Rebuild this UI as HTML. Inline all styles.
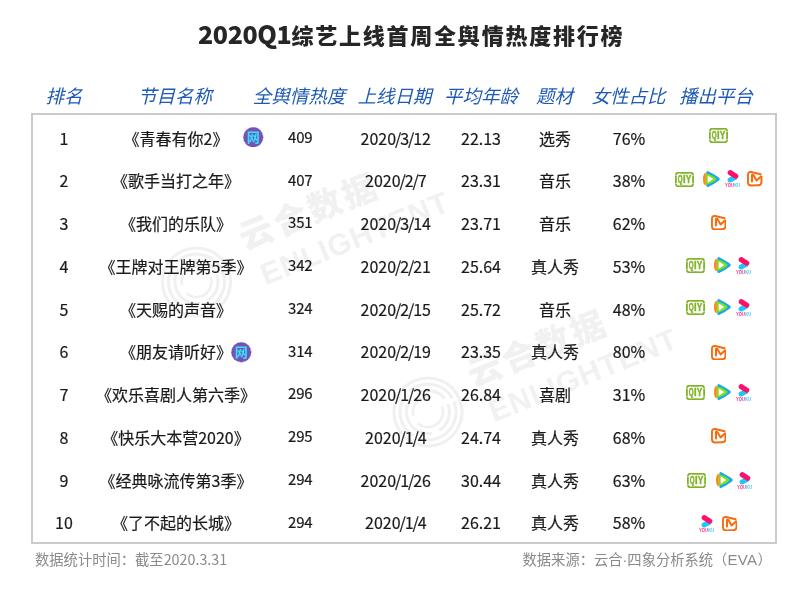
<!DOCTYPE html>
<html><head><meta charset="utf-8">
<style>
*{margin:0;padding:0;box-sizing:border-box}
html,body{width:800px;height:589px;background:#fff;overflow:hidden}
body{position:relative;font-family:"Liberation Sans","Noto Sans CJK SC",sans-serif;color:#1a1a1a}
.title{position:absolute;left:198px;top:17px;white-space:nowrap;font:900 22px/32px "Noto Sans CJK SC",sans-serif;color:#262626;letter-spacing:1.78px}
.title b{font-size:25px;letter-spacing:-0.4px;font-weight:900}
.hd{position:absolute;top:83px;height:24px;font:italic 18.5px/24px "Noto Sans CJK SC",sans-serif;color:#1e5ab4;white-space:nowrap;text-align:center;transform:translateX(-50%)}
.box{position:absolute;left:31px;top:113px;width:746px;height:431px;border:2px solid #cbcbcb}
.c{position:absolute;height:24px;line-height:24px;font-size:16px;-webkit-text-stroke:0.2px #1a1a1a;white-space:nowrap;text-align:center;transform:translateX(-50%);font-family:"Noto Sans CJK SC",sans-serif}
.nm{}
.hv{position:absolute;height:24px;line-height:24px;font-size:15px;-webkit-text-stroke:0.2px #1a1a1a;color:#1a1a1a;letter-spacing:-0.2px;white-space:nowrap;font-family:"Noto Sans CJK SC",sans-serif}
.sl{font-style:normal;margin:0 -1.1px}
.bd{position:absolute;left:100%;top:1px;margin-left:4px}
.bd svg{display:block}
.foot{position:absolute;top:549px;font:14.3px/20px "Noto Sans CJK SC",sans-serif;color:#8a8a8a;white-space:nowrap}
.ic{position:absolute;line-height:0}
.ic svg{display:block}
.wmk{position:absolute;left:0;top:0}
</style></head><body>
<div class="title"><b>2020Q1</b>综艺上线首周全舆情热度排行榜</div>

<div class="hd" style="left:64px">排名</div>
<div class="hd" style="left:175px">节目名称</div>
<div class="hd" style="left:299px">全舆情热度</div>
<div class="hd" style="left:394.5px">上线日期</div>
<div class="hd" style="left:481px">平均年龄</div>
<div class="hd" style="left:554.5px">题材</div>
<div class="hd" style="left:628.5px">女性占比</div>
<div class="hd" style="left:716px">播出平台</div>

<div class="box"></div>
<svg class="wmk" width="800" height="589" viewBox="0 0 800 589">
<g fill="#f1f1f1" font-family="Noto Sans CJK SC,sans-serif" font-weight="900">
<g transform="translate(245,250.5) rotate(-22)">
<text x="0" y="0" font-size="34" letter-spacing="3">云合数据</text>
<text x="6" y="40" font-size="30" font-family="Liberation Sans,sans-serif" font-weight="bold" textLength="200" lengthAdjust="spacing">ENLIGHTENT</text>
</g>
<g transform="translate(473.5,387.5) rotate(-22)">
<text x="0" y="0" font-size="34" letter-spacing="3">云合数据</text>
<text x="6" y="40" font-size="30" font-family="Liberation Sans,sans-serif" font-weight="bold" textLength="200" lengthAdjust="spacing">ENLIGHTENT</text>
</g>
</g>
<g transform="translate(196.5,282) rotate(-22)" fill="none" stroke="#f0f0f0">
<circle r="34" stroke-width="3"/>
<circle r="28" stroke-width="3" stroke-dasharray="60 10 40 12 50 4" />
<circle r="21.5" stroke-width="3" stroke-dasharray="30 8 50 10 30 7"/>
<circle r="15" stroke-width="2.5" stroke-dasharray="40 9 30 15"/>
</g>
<g transform="translate(428,412) rotate(-22)" fill="none" stroke="#f0f0f0">
<circle r="34" stroke-width="3"/>
<circle r="28" stroke-width="3" stroke-dasharray="60 10 40 12 50 4" />
<circle r="21.5" stroke-width="3" stroke-dasharray="30 8 50 10 30 7"/>
<circle r="15" stroke-width="2.5" stroke-dasharray="40 9 30 15"/>
</g>
</svg>

<div class="c" style="left:64px;top:125.50px">1</div>
<div class="c nm" style="left:176px;top:125.50px">《青春有你2》</div>
<div class="ic" style="left:243.25px;top:126.95px"><svg width="20.5" height="20.5" viewBox="0 0 20.5 20.5"><circle cx="10.25" cy="10.25" r="9.9" fill="#7552b5" stroke="#7552b5" stroke-width="0.5" stroke-dasharray="0.8 0.8"/><text x="10.25" y="15.1" text-anchor="middle" font-family="Noto Sans CJK SC,sans-serif" font-weight="bold" font-size="13" fill="#36e2fb">网</text></svg></div>
<div class="hv" style="left:288px;top:124.80px">409</div>
<div class="c" style="left:395.8px;top:125.50px">2020<i class="sl">/</i>3<i class="sl">/</i>12</div>
<div class="c" style="left:481px;top:125.50px">22.13</div>
<div class="c" style="left:555px;top:125.50px">选秀</div>
<div class="c" style="left:629px;top:125.50px">76%</div>
<div class="ic" style="left:708.8px;top:127.55px"><svg width="19" height="15" viewBox="0 0 19 15"><path d="M0.9 3.4 C0.9 1.3 1.9 0.55 4 0.7 Q9.5 1.1 15 0.7 C17.1 0.55 18.1 1.3 18.1 3.4" fill="none" stroke="#80b327" stroke-width="1.8"/><path d="M0.9 11.6 C0.9 13.7 1.9 14.45 4 14.3 Q9.5 13.9 15 14.3 C17.1 14.45 18.1 13.7 18.1 11.6" fill="none" stroke="#80b327" stroke-width="1.8"/><path d="M0.9 4.1 V10.9 M18.1 4.1 V10.9" stroke="#80b327" stroke-width="1.8"/><text x="2.7" y="11.3" font-family="Liberation Sans,sans-serif" font-weight="bold" font-size="10.8" fill="#80b327" stroke="#80b327" stroke-width="0.45" lengthAdjust="spacingAndGlyphs" textLength="4.9">Q</text><text x="8.1" y="11.3" font-family="Liberation Sans,sans-serif" font-weight="bold" font-size="10.8" fill="#80b327" stroke="#80b327" stroke-width="0.45" lengthAdjust="spacingAndGlyphs" textLength="2.6">I</text><text x="10.8" y="11.3" font-family="Liberation Sans,sans-serif" font-weight="bold" font-size="10.8" fill="#80b327" stroke="#80b327" stroke-width="0.45" lengthAdjust="spacingAndGlyphs" textLength="5.6">Y</text></svg></div>
<div class="c" style="left:64px;top:168.25px">2</div>
<div class="c nm" style="left:176px;top:168.25px">《歌手当打之年》</div>
<div class="hv" style="left:288px;top:167.55px">407</div>
<div class="c" style="left:395.8px;top:168.25px">2020<i class="sl">/</i>2<i class="sl">/</i>7</div>
<div class="c" style="left:481px;top:168.25px">23.31</div>
<div class="c" style="left:555px;top:168.25px">音乐</div>
<div class="c" style="left:629px;top:168.25px">38%</div>
<div class="ic" style="left:674.6px;top:171.50px"><svg width="19" height="15" viewBox="0 0 19 15"><path d="M0.9 3.4 C0.9 1.3 1.9 0.55 4 0.7 Q9.5 1.1 15 0.7 C17.1 0.55 18.1 1.3 18.1 3.4" fill="none" stroke="#80b327" stroke-width="1.8"/><path d="M0.9 11.6 C0.9 13.7 1.9 14.45 4 14.3 Q9.5 13.9 15 14.3 C17.1 14.45 18.1 13.7 18.1 11.6" fill="none" stroke="#80b327" stroke-width="1.8"/><path d="M0.9 4.1 V10.9 M18.1 4.1 V10.9" stroke="#80b327" stroke-width="1.8"/><text x="2.7" y="11.3" font-family="Liberation Sans,sans-serif" font-weight="bold" font-size="10.8" fill="#80b327" stroke="#80b327" stroke-width="0.45" lengthAdjust="spacingAndGlyphs" textLength="4.9">Q</text><text x="8.1" y="11.3" font-family="Liberation Sans,sans-serif" font-weight="bold" font-size="10.8" fill="#80b327" stroke="#80b327" stroke-width="0.45" lengthAdjust="spacingAndGlyphs" textLength="2.6">I</text><text x="10.8" y="11.3" font-family="Liberation Sans,sans-serif" font-weight="bold" font-size="10.8" fill="#80b327" stroke="#80b327" stroke-width="0.45" lengthAdjust="spacingAndGlyphs" textLength="5.6">Y</text></svg></div>
<div class="ic" style="left:703.2px;top:170.75px"><svg width="17" height="17" viewBox="0 0 17 17"><path d="M3.4 1.4 Q3.6 -0.5 5.6 0.4 Q11.8 3.3 15.9 6.6 Q17.5 8.05 15.9 9.5 Q11.8 12.8 5.6 15.7 Q3.6 16.6 3.4 14.7 Z" fill="#17a6f2"/><path d="M2.6 2.2 Q9.6 4.3 13.1 7.2 Q14 8.05 13.1 8.9 Q9.6 11.8 2.6 13.9 Z" fill="#7ee01c"/><path d="M4.7 4.9 Q4.7 4.3 5.3 4.7 L9.6 7.6 Q10.1 8.05 9.6 8.5 L5.3 11.4 Q4.7 11.8 4.7 11.2 Z" fill="#fff"/><path d="M2.8 1.4 Q0 2.4 0 8 Q0 13.6 2.8 14.5 Z" fill="#ff8618"/></svg></div>
<div class="ic" style="left:724.5px;top:170.25px"><svg width="16" height="17.5" viewBox="0 0 16 17.5"><path d="M5.1 10 L9.8 7.6" stroke="#1ec6fc" stroke-width="5" stroke-linecap="round"/><path d="M5.3 2.7 L10.7 6.1" stroke="#ff0f6a" stroke-width="5.2" stroke-linecap="round"/><text x="0" y="17" font-family="Liberation Sans,sans-serif" font-weight="bold" font-size="5" fill="#ff2f88" textLength="9" lengthAdjust="spacingAndGlyphs">YOU</text><text x="9.3" y="17" font-family="Liberation Sans,sans-serif" font-weight="bold" font-size="5" fill="#3cc2ff" textLength="5.8" lengthAdjust="spacingAndGlyphs">KU</text></svg></div>
<div class="ic" style="left:747.0px;top:171.25px"><svg width="15.5" height="15.5" viewBox="0 0 15.5 15.5"><path d="M13.6 3.2 L4.2 1 Q0.95 0.6 0.95 4 L0.95 11.2 Q0.95 14.5 4.2 14.5 L11.2 14.3 Q14.5 14.2 14.5 11 L14.5 5.6" fill="none" stroke="#f86a0c" stroke-width="1.9" stroke-linecap="round"/><path d="M5 10.5 L5 4.2 Q5.2 3.1 6.2 3.8 L9.6 9.4 L13.9 5.4" fill="none" stroke="#f86a0c" stroke-width="2" stroke-linejoin="round" stroke-linecap="round"/></svg></div>
<div class="c" style="left:64px;top:211.00px">3</div>
<div class="c nm" style="left:176px;top:211.00px">《我们的乐队》</div>
<div class="hv" style="left:288px;top:210.30px">351</div>
<div class="c" style="left:395.8px;top:211.00px">2020<i class="sl">/</i>3<i class="sl">/</i>14</div>
<div class="c" style="left:481px;top:211.00px">23.71</div>
<div class="c" style="left:555px;top:211.00px">音乐</div>
<div class="c" style="left:629px;top:211.00px">62%</div>
<div class="ic" style="left:710.9px;top:214.70px"><svg width="15.5" height="15.5" viewBox="0 0 15.5 15.5"><path d="M13.6 3.2 L4.2 1 Q0.95 0.6 0.95 4 L0.95 11.2 Q0.95 14.5 4.2 14.5 L11.2 14.3 Q14.5 14.2 14.5 11 L14.5 5.6" fill="none" stroke="#f86a0c" stroke-width="1.9" stroke-linecap="round"/><path d="M5 10.5 L5 4.2 Q5.2 3.1 6.2 3.8 L9.6 9.4 L13.9 5.4" fill="none" stroke="#f86a0c" stroke-width="2" stroke-linejoin="round" stroke-linecap="round"/></svg></div>
<div class="c" style="left:64px;top:253.75px">4</div>
<div class="c nm" style="left:176px;top:253.75px">《王牌对王牌第5季》</div>
<div class="hv" style="left:288px;top:253.05px">342</div>
<div class="c" style="left:395.8px;top:253.75px">2020<i class="sl">/</i>2<i class="sl">/</i>21</div>
<div class="c" style="left:481px;top:253.75px">25.64</div>
<div class="c" style="left:555px;top:253.75px">真人秀</div>
<div class="c" style="left:629px;top:253.75px">53%</div>
<div class="ic" style="left:685.7px;top:257.85px"><svg width="19" height="15" viewBox="0 0 19 15"><path d="M0.9 3.4 C0.9 1.3 1.9 0.55 4 0.7 Q9.5 1.1 15 0.7 C17.1 0.55 18.1 1.3 18.1 3.4" fill="none" stroke="#80b327" stroke-width="1.8"/><path d="M0.9 11.6 C0.9 13.7 1.9 14.45 4 14.3 Q9.5 13.9 15 14.3 C17.1 14.45 18.1 13.7 18.1 11.6" fill="none" stroke="#80b327" stroke-width="1.8"/><path d="M0.9 4.1 V10.9 M18.1 4.1 V10.9" stroke="#80b327" stroke-width="1.8"/><text x="2.7" y="11.3" font-family="Liberation Sans,sans-serif" font-weight="bold" font-size="10.8" fill="#80b327" stroke="#80b327" stroke-width="0.45" lengthAdjust="spacingAndGlyphs" textLength="4.9">Q</text><text x="8.1" y="11.3" font-family="Liberation Sans,sans-serif" font-weight="bold" font-size="10.8" fill="#80b327" stroke="#80b327" stroke-width="0.45" lengthAdjust="spacingAndGlyphs" textLength="2.6">I</text><text x="10.8" y="11.3" font-family="Liberation Sans,sans-serif" font-weight="bold" font-size="10.8" fill="#80b327" stroke="#80b327" stroke-width="0.45" lengthAdjust="spacingAndGlyphs" textLength="5.6">Y</text></svg></div>
<div class="ic" style="left:714.3px;top:257.10px"><svg width="17" height="17" viewBox="0 0 17 17"><path d="M3.4 1.4 Q3.6 -0.5 5.6 0.4 Q11.8 3.3 15.9 6.6 Q17.5 8.05 15.9 9.5 Q11.8 12.8 5.6 15.7 Q3.6 16.6 3.4 14.7 Z" fill="#17a6f2"/><path d="M2.6 2.2 Q9.6 4.3 13.1 7.2 Q14 8.05 13.1 8.9 Q9.6 11.8 2.6 13.9 Z" fill="#7ee01c"/><path d="M4.7 4.9 Q4.7 4.3 5.3 4.7 L9.6 7.6 Q10.1 8.05 9.6 8.5 L5.3 11.4 Q4.7 11.8 4.7 11.2 Z" fill="#fff"/><path d="M2.8 1.4 Q0 2.4 0 8 Q0 13.6 2.8 14.5 Z" fill="#ff8618"/></svg></div>
<div class="ic" style="left:735.6px;top:256.60px"><svg width="16" height="17.5" viewBox="0 0 16 17.5"><path d="M5.1 10 L9.8 7.6" stroke="#1ec6fc" stroke-width="5" stroke-linecap="round"/><path d="M5.3 2.7 L10.7 6.1" stroke="#ff0f6a" stroke-width="5.2" stroke-linecap="round"/><text x="0" y="17" font-family="Liberation Sans,sans-serif" font-weight="bold" font-size="5" fill="#ff2f88" textLength="9" lengthAdjust="spacingAndGlyphs">YOU</text><text x="9.3" y="17" font-family="Liberation Sans,sans-serif" font-weight="bold" font-size="5" fill="#3cc2ff" textLength="5.8" lengthAdjust="spacingAndGlyphs">KU</text></svg></div>
<div class="c" style="left:64px;top:296.50px">5</div>
<div class="c nm" style="left:176px;top:296.50px">《天赐的声音》</div>
<div class="hv" style="left:288px;top:295.80px">324</div>
<div class="c" style="left:395.8px;top:296.50px">2020<i class="sl">/</i>2<i class="sl">/</i>15</div>
<div class="c" style="left:481px;top:296.50px">25.72</div>
<div class="c" style="left:555px;top:296.50px">音乐</div>
<div class="c" style="left:629px;top:296.50px">48%</div>
<div class="ic" style="left:685.7px;top:300.05px"><svg width="19" height="15" viewBox="0 0 19 15"><path d="M0.9 3.4 C0.9 1.3 1.9 0.55 4 0.7 Q9.5 1.1 15 0.7 C17.1 0.55 18.1 1.3 18.1 3.4" fill="none" stroke="#80b327" stroke-width="1.8"/><path d="M0.9 11.6 C0.9 13.7 1.9 14.45 4 14.3 Q9.5 13.9 15 14.3 C17.1 14.45 18.1 13.7 18.1 11.6" fill="none" stroke="#80b327" stroke-width="1.8"/><path d="M0.9 4.1 V10.9 M18.1 4.1 V10.9" stroke="#80b327" stroke-width="1.8"/><text x="2.7" y="11.3" font-family="Liberation Sans,sans-serif" font-weight="bold" font-size="10.8" fill="#80b327" stroke="#80b327" stroke-width="0.45" lengthAdjust="spacingAndGlyphs" textLength="4.9">Q</text><text x="8.1" y="11.3" font-family="Liberation Sans,sans-serif" font-weight="bold" font-size="10.8" fill="#80b327" stroke="#80b327" stroke-width="0.45" lengthAdjust="spacingAndGlyphs" textLength="2.6">I</text><text x="10.8" y="11.3" font-family="Liberation Sans,sans-serif" font-weight="bold" font-size="10.8" fill="#80b327" stroke="#80b327" stroke-width="0.45" lengthAdjust="spacingAndGlyphs" textLength="5.6">Y</text></svg></div>
<div class="ic" style="left:714.3px;top:299.30px"><svg width="17" height="17" viewBox="0 0 17 17"><path d="M3.4 1.4 Q3.6 -0.5 5.6 0.4 Q11.8 3.3 15.9 6.6 Q17.5 8.05 15.9 9.5 Q11.8 12.8 5.6 15.7 Q3.6 16.6 3.4 14.7 Z" fill="#17a6f2"/><path d="M2.6 2.2 Q9.6 4.3 13.1 7.2 Q14 8.05 13.1 8.9 Q9.6 11.8 2.6 13.9 Z" fill="#7ee01c"/><path d="M4.7 4.9 Q4.7 4.3 5.3 4.7 L9.6 7.6 Q10.1 8.05 9.6 8.5 L5.3 11.4 Q4.7 11.8 4.7 11.2 Z" fill="#fff"/><path d="M2.8 1.4 Q0 2.4 0 8 Q0 13.6 2.8 14.5 Z" fill="#ff8618"/></svg></div>
<div class="ic" style="left:735.6px;top:298.80px"><svg width="16" height="17.5" viewBox="0 0 16 17.5"><path d="M5.1 10 L9.8 7.6" stroke="#1ec6fc" stroke-width="5" stroke-linecap="round"/><path d="M5.3 2.7 L10.7 6.1" stroke="#ff0f6a" stroke-width="5.2" stroke-linecap="round"/><text x="0" y="17" font-family="Liberation Sans,sans-serif" font-weight="bold" font-size="5" fill="#ff2f88" textLength="9" lengthAdjust="spacingAndGlyphs">YOU</text><text x="9.3" y="17" font-family="Liberation Sans,sans-serif" font-weight="bold" font-size="5" fill="#3cc2ff" textLength="5.8" lengthAdjust="spacingAndGlyphs">KU</text></svg></div>
<div class="c" style="left:64px;top:339.25px">6</div>
<div class="c nm" style="left:176px;top:339.25px">《朋友请听好》</div>
<div class="ic" style="left:231.45px;top:342.05px"><svg width="20.5" height="20.5" viewBox="0 0 20.5 20.5"><circle cx="10.25" cy="10.25" r="9.9" fill="#7552b5" stroke="#7552b5" stroke-width="0.5" stroke-dasharray="0.8 0.8"/><text x="10.25" y="15.1" text-anchor="middle" font-family="Noto Sans CJK SC,sans-serif" font-weight="bold" font-size="13" fill="#36e2fb">网</text></svg></div>
<div class="hv" style="left:288px;top:338.55px">314</div>
<div class="c" style="left:395.8px;top:339.25px">2020<i class="sl">/</i>2<i class="sl">/</i>19</div>
<div class="c" style="left:481px;top:339.25px">23.35</div>
<div class="c" style="left:555px;top:339.25px">真人秀</div>
<div class="c" style="left:629px;top:339.25px">80%</div>
<div class="ic" style="left:710.8px;top:344.85px"><svg width="15.5" height="15.5" viewBox="0 0 15.5 15.5"><path d="M13.6 3.2 L4.2 1 Q0.95 0.6 0.95 4 L0.95 11.2 Q0.95 14.5 4.2 14.5 L11.2 14.3 Q14.5 14.2 14.5 11 L14.5 5.6" fill="none" stroke="#f86a0c" stroke-width="1.9" stroke-linecap="round"/><path d="M5 10.5 L5 4.2 Q5.2 3.1 6.2 3.8 L9.6 9.4 L13.9 5.4" fill="none" stroke="#f86a0c" stroke-width="2" stroke-linejoin="round" stroke-linecap="round"/></svg></div>
<div class="c" style="left:64px;top:382.00px">7</div>
<div class="c nm" style="left:176px;top:382.00px">《欢乐喜剧人第六季》</div>
<div class="hv" style="left:288px;top:381.30px">296</div>
<div class="c" style="left:395.8px;top:382.00px">2020<i class="sl">/</i>1<i class="sl">/</i>26</div>
<div class="c" style="left:481px;top:382.00px">26.84</div>
<div class="c" style="left:555px;top:382.00px">喜剧</div>
<div class="c" style="left:629px;top:382.00px">31%</div>
<div class="ic" style="left:685.7px;top:385.00px"><svg width="19" height="15" viewBox="0 0 19 15"><path d="M0.9 3.4 C0.9 1.3 1.9 0.55 4 0.7 Q9.5 1.1 15 0.7 C17.1 0.55 18.1 1.3 18.1 3.4" fill="none" stroke="#80b327" stroke-width="1.8"/><path d="M0.9 11.6 C0.9 13.7 1.9 14.45 4 14.3 Q9.5 13.9 15 14.3 C17.1 14.45 18.1 13.7 18.1 11.6" fill="none" stroke="#80b327" stroke-width="1.8"/><path d="M0.9 4.1 V10.9 M18.1 4.1 V10.9" stroke="#80b327" stroke-width="1.8"/><text x="2.7" y="11.3" font-family="Liberation Sans,sans-serif" font-weight="bold" font-size="10.8" fill="#80b327" stroke="#80b327" stroke-width="0.45" lengthAdjust="spacingAndGlyphs" textLength="4.9">Q</text><text x="8.1" y="11.3" font-family="Liberation Sans,sans-serif" font-weight="bold" font-size="10.8" fill="#80b327" stroke="#80b327" stroke-width="0.45" lengthAdjust="spacingAndGlyphs" textLength="2.6">I</text><text x="10.8" y="11.3" font-family="Liberation Sans,sans-serif" font-weight="bold" font-size="10.8" fill="#80b327" stroke="#80b327" stroke-width="0.45" lengthAdjust="spacingAndGlyphs" textLength="5.6">Y</text></svg></div>
<div class="ic" style="left:714.3px;top:384.25px"><svg width="17" height="17" viewBox="0 0 17 17"><path d="M3.4 1.4 Q3.6 -0.5 5.6 0.4 Q11.8 3.3 15.9 6.6 Q17.5 8.05 15.9 9.5 Q11.8 12.8 5.6 15.7 Q3.6 16.6 3.4 14.7 Z" fill="#17a6f2"/><path d="M2.6 2.2 Q9.6 4.3 13.1 7.2 Q14 8.05 13.1 8.9 Q9.6 11.8 2.6 13.9 Z" fill="#7ee01c"/><path d="M4.7 4.9 Q4.7 4.3 5.3 4.7 L9.6 7.6 Q10.1 8.05 9.6 8.5 L5.3 11.4 Q4.7 11.8 4.7 11.2 Z" fill="#fff"/><path d="M2.8 1.4 Q0 2.4 0 8 Q0 13.6 2.8 14.5 Z" fill="#ff8618"/></svg></div>
<div class="ic" style="left:735.6px;top:383.75px"><svg width="16" height="17.5" viewBox="0 0 16 17.5"><path d="M5.1 10 L9.8 7.6" stroke="#1ec6fc" stroke-width="5" stroke-linecap="round"/><path d="M5.3 2.7 L10.7 6.1" stroke="#ff0f6a" stroke-width="5.2" stroke-linecap="round"/><text x="0" y="17" font-family="Liberation Sans,sans-serif" font-weight="bold" font-size="5" fill="#ff2f88" textLength="9" lengthAdjust="spacingAndGlyphs">YOU</text><text x="9.3" y="17" font-family="Liberation Sans,sans-serif" font-weight="bold" font-size="5" fill="#3cc2ff" textLength="5.8" lengthAdjust="spacingAndGlyphs">KU</text></svg></div>
<div class="c" style="left:64px;top:424.75px">8</div>
<div class="c nm" style="left:176px;top:424.75px">《快乐大本营2020》</div>
<div class="hv" style="left:288px;top:424.05px">295</div>
<div class="c" style="left:395.8px;top:424.75px">2020<i class="sl">/</i>1<i class="sl">/</i>4</div>
<div class="c" style="left:481px;top:424.75px">24.74</div>
<div class="c" style="left:555px;top:424.75px">真人秀</div>
<div class="c" style="left:629px;top:424.75px">68%</div>
<div class="ic" style="left:710.8px;top:428.40px"><svg width="15.5" height="15.5" viewBox="0 0 15.5 15.5"><path d="M13.6 3.2 L4.2 1 Q0.95 0.6 0.95 4 L0.95 11.2 Q0.95 14.5 4.2 14.5 L11.2 14.3 Q14.5 14.2 14.5 11 L14.5 5.6" fill="none" stroke="#f86a0c" stroke-width="1.9" stroke-linecap="round"/><path d="M5 10.5 L5 4.2 Q5.2 3.1 6.2 3.8 L9.6 9.4 L13.9 5.4" fill="none" stroke="#f86a0c" stroke-width="2" stroke-linejoin="round" stroke-linecap="round"/></svg></div>
<div class="c" style="left:64px;top:467.50px">9</div>
<div class="c nm" style="left:176px;top:467.50px">《经典咏流传第3季》</div>
<div class="hv" style="left:288px;top:466.80px">294</div>
<div class="c" style="left:395.8px;top:467.50px">2020<i class="sl">/</i>1<i class="sl">/</i>26</div>
<div class="c" style="left:481px;top:467.50px">30.44</div>
<div class="c" style="left:555px;top:467.50px">真人秀</div>
<div class="c" style="left:629px;top:467.50px">63%</div>
<div class="ic" style="left:687.4px;top:472.80px"><svg width="19" height="15" viewBox="0 0 19 15"><path d="M0.9 3.4 C0.9 1.3 1.9 0.55 4 0.7 Q9.5 1.1 15 0.7 C17.1 0.55 18.1 1.3 18.1 3.4" fill="none" stroke="#80b327" stroke-width="1.8"/><path d="M0.9 11.6 C0.9 13.7 1.9 14.45 4 14.3 Q9.5 13.9 15 14.3 C17.1 14.45 18.1 13.7 18.1 11.6" fill="none" stroke="#80b327" stroke-width="1.8"/><path d="M0.9 4.1 V10.9 M18.1 4.1 V10.9" stroke="#80b327" stroke-width="1.8"/><text x="2.7" y="11.3" font-family="Liberation Sans,sans-serif" font-weight="bold" font-size="10.8" fill="#80b327" stroke="#80b327" stroke-width="0.45" lengthAdjust="spacingAndGlyphs" textLength="4.9">Q</text><text x="8.1" y="11.3" font-family="Liberation Sans,sans-serif" font-weight="bold" font-size="10.8" fill="#80b327" stroke="#80b327" stroke-width="0.45" lengthAdjust="spacingAndGlyphs" textLength="2.6">I</text><text x="10.8" y="11.3" font-family="Liberation Sans,sans-serif" font-weight="bold" font-size="10.8" fill="#80b327" stroke="#80b327" stroke-width="0.45" lengthAdjust="spacingAndGlyphs" textLength="5.6">Y</text></svg></div>
<div class="ic" style="left:716.0px;top:472.05px"><svg width="17" height="17" viewBox="0 0 17 17"><path d="M3.4 1.4 Q3.6 -0.5 5.6 0.4 Q11.8 3.3 15.9 6.6 Q17.5 8.05 15.9 9.5 Q11.8 12.8 5.6 15.7 Q3.6 16.6 3.4 14.7 Z" fill="#17a6f2"/><path d="M2.6 2.2 Q9.6 4.3 13.1 7.2 Q14 8.05 13.1 8.9 Q9.6 11.8 2.6 13.9 Z" fill="#7ee01c"/><path d="M4.7 4.9 Q4.7 4.3 5.3 4.7 L9.6 7.6 Q10.1 8.05 9.6 8.5 L5.3 11.4 Q4.7 11.8 4.7 11.2 Z" fill="#fff"/><path d="M2.8 1.4 Q0 2.4 0 8 Q0 13.6 2.8 14.5 Z" fill="#ff8618"/></svg></div>
<div class="ic" style="left:737.3px;top:471.55px"><svg width="16" height="17.5" viewBox="0 0 16 17.5"><path d="M5.1 10 L9.8 7.6" stroke="#1ec6fc" stroke-width="5" stroke-linecap="round"/><path d="M5.3 2.7 L10.7 6.1" stroke="#ff0f6a" stroke-width="5.2" stroke-linecap="round"/><text x="0" y="17" font-family="Liberation Sans,sans-serif" font-weight="bold" font-size="5" fill="#ff2f88" textLength="9" lengthAdjust="spacingAndGlyphs">YOU</text><text x="9.3" y="17" font-family="Liberation Sans,sans-serif" font-weight="bold" font-size="5" fill="#3cc2ff" textLength="5.8" lengthAdjust="spacingAndGlyphs">KU</text></svg></div>
<div class="c" style="left:64px;top:510.25px">10</div>
<div class="c nm" style="left:176px;top:510.25px">《了不起的长城》</div>
<div class="hv" style="left:288px;top:509.55px">294</div>
<div class="c" style="left:395.8px;top:510.25px">2020<i class="sl">/</i>1<i class="sl">/</i>4</div>
<div class="c" style="left:481px;top:510.25px">26.21</div>
<div class="c" style="left:555px;top:510.25px">真人秀</div>
<div class="c" style="left:629px;top:510.25px">58%</div>
<div class="ic" style="left:699.1px;top:514.75px"><svg width="16" height="17.5" viewBox="0 0 16 17.5"><path d="M5.1 10 L9.8 7.6" stroke="#1ec6fc" stroke-width="5" stroke-linecap="round"/><path d="M5.3 2.7 L10.7 6.1" stroke="#ff0f6a" stroke-width="5.2" stroke-linecap="round"/><text x="0" y="17" font-family="Liberation Sans,sans-serif" font-weight="bold" font-size="5" fill="#ff2f88" textLength="9" lengthAdjust="spacingAndGlyphs">YOU</text><text x="9.3" y="17" font-family="Liberation Sans,sans-serif" font-weight="bold" font-size="5" fill="#3cc2ff" textLength="5.8" lengthAdjust="spacingAndGlyphs">KU</text></svg></div>
<div class="ic" style="left:721.6px;top:515.75px"><svg width="15.5" height="15.5" viewBox="0 0 15.5 15.5"><path d="M13.6 3.2 L4.2 1 Q0.95 0.6 0.95 4 L0.95 11.2 Q0.95 14.5 4.2 14.5 L11.2 14.3 Q14.5 14.2 14.5 11 L14.5 5.6" fill="none" stroke="#f86a0c" stroke-width="1.9" stroke-linecap="round"/><path d="M5 10.5 L5 4.2 Q5.2 3.1 6.2 3.8 L9.6 9.4 L13.9 5.4" fill="none" stroke="#f86a0c" stroke-width="2" stroke-linejoin="round" stroke-linecap="round"/></svg></div>

<div class="foot" style="left:35px">数据统计时间：截至2020.3.31</div>
<div class="foot" style="left:522.5px">数据来源：云合<span style="font-family:'Liberation Sans'">·</span>四象分析系统（<span style="font-family:'Liberation Sans';font-size:15px;letter-spacing:0.4px">EVA</span>）</div>
</body></html>
